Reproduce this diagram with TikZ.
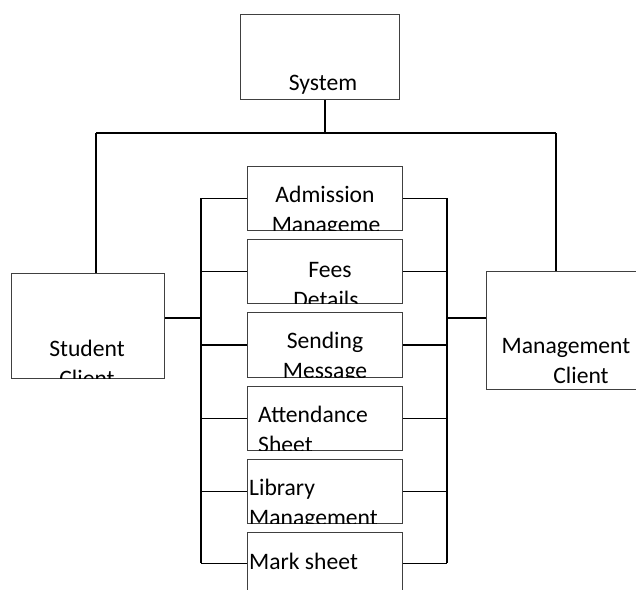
\documentclass[tikz,border=0pt]{standalone}
\usepackage{fontspec}
\setmainfont{Carlito}
\begin{document}
\begin{tikzpicture}[x=1pt,y=-1pt,
  box/.style={draw=black!75, line width=0.9pt, inner sep=0pt, anchor=north west},
  conn/.style={draw=black, line width=1.4pt},
  lbl/.style={anchor=base, inner sep=0pt, font=\fontsize{23.6}{28}\selectfont},
  lbll/.style={anchor=base west, inner sep=0pt, font=\fontsize{23.6}{28}\selectfont}]
\useasboundingbox (0,0) rectangle (636,589);
% boxes
\node[box, minimum width=159pt, minimum height=85pt] (sys) at (240,14) {};
\node[box, minimum width=153pt, minimum height=105pt] (stu) at (11,273) {};
\node[box, minimum width=170pt, minimum height=118pt] (mgmt) at (486,271) {};
\node[box, minimum width=155pt, minimum height=64pt] (adm) at (247,166) {};
\node[box, minimum width=155pt, minimum height=64pt] (fees) at (247,239) {};
\node[box, minimum width=155pt, minimum height=65pt] (send) at (247,312) {};
\node[box, minimum width=155pt, minimum height=64pt] (att) at (247,386) {};
\node[box, minimum width=155pt, minimum height=64pt] (lib) at (247,459) {};
\node[box, minimum width=155pt, minimum height=62pt] (mark) at (247,532) {};
% connectors
\coordinate (bj) at (325,133);
\coordinate (bl) at (96,133);
\coordinate (br) at (556,133);
\coordinate (sj) at (201,318);
\coordinate (mj) at (447,318);
\draw[conn] (bj |- sys.south) -- (bj);
\draw[conn] (bl) -- (br);
\draw[conn] (bl) -- (bl |- stu.north);
\draw[conn] (br) -- (br |- mgmt.north);
\draw[conn] (sj) -- (sj -| stu.east);
\draw[conn] (mj) -- (mj -| mgmt.west);
\draw[conn] (adm.west -| sj) -- (mark.west -| sj);
\draw[conn] (adm.east -| mj) -- (mark.east -| mj);
\foreach \b in {adm,fees,send,att,lib,mark}{
  \draw[conn] (\b.west) -- (\b.west -| sj);
  \draw[conn] (\b.east) -- (\b.east -| mj);
}
% texts
\node[lbl] (syst) at (323,90) {System};
\begin{scope}
\clip (stu.south west) rectangle (stu.north east);
\node[lbl] (stut1) at (87,356) {Student};
\node[lbl] (stut2) at (87,386) {Client};
\end{scope}
\node[lbl] (mgt1) at (566,353) {Management};
\node[lbl] (mgt2) at (581,383) {Client};
\begin{scope}
\clip (adm.south west) rectangle (adm.north east);
\node[lbl] (admt1) at (325,202) {Admission};
\node[lbl] (admt2) at (326,232) {Manageme};
\end{scope}
\begin{scope}
\clip (fees.south west) rectangle (fees.north east);
\node[lbl] (feet1) at (330,277) {Fees};
\node[lbl] (feet2) at (326,307) {Details};
\end{scope}
\begin{scope}
\clip (send.south west) rectangle (send.north east);
\node[lbl] (sent1) at (325,348) {Sending};
\node[lbl] (sent2) at (325,378) {Message};
\end{scope}
\begin{scope}
\clip (att.south west) rectangle (att.north east);
\node[lbll] (attt1) at (258,422) {Attendance};
\node[lbll] (attt2) at (258,452) {Sheet};
\end{scope}
\begin{scope}
\clip (lib.south west) rectangle (lib.north east);
\node[lbll] (libt1) at (249,495) {Library};
\node[lbll] (libt2) at (249,525) {Management};
\end{scope}
\node[lbll] (markt) at (249,569) {Mark sheet};
\end{tikzpicture}
\end{document}
